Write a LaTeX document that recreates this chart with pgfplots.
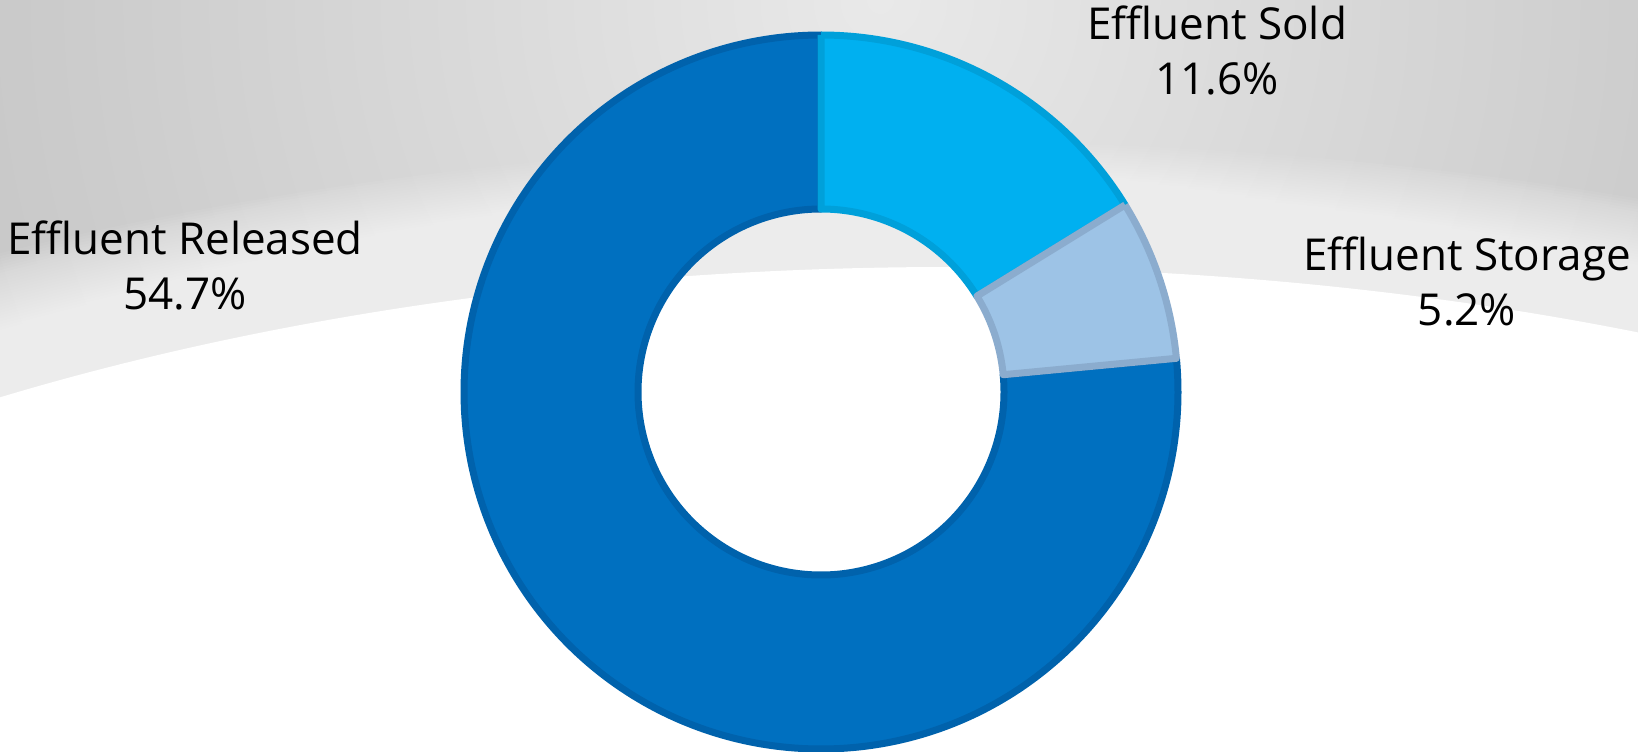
\documentclass[border=0pt]{standalone}
\usepackage{pgfplots}
\pgfplotsset{compat=1.18}
\usepackage{pgfplotstable}
\usepackage{fontspec}
\setmainfont{Open Sans}
\definecolor{relF}{HTML}{0070C0}
\definecolor{relB}{HTML}{0062AC}
\definecolor{soldF}{HTML}{00B0F0}
\definecolor{soldB}{HTML}{00A0DA}
\definecolor{stoF}{HTML}{9DC3E6}
\definecolor{stoB}{HTML}{8BACCE}
\definecolor{g0}{HTML}{E9E9E9}
\definecolor{g1}{HTML}{DADADA}
\definecolor{g2}{HTML}{CCCCCC}
\definecolor{g3}{HTML}{C6C6C6}
\definecolor{g4}{HTML}{C3C3C3}
\pgfdeclareradialshading{baseshade}{\pgfpoint{0bp}{0bp}}{%
 color(0bp)=(g0); color(10bp)=(g1); color(20bp)=(g2); color(25bp)=(g3); color(50bp)=(g4)}
\pgfplotstableread{
label value
Sold 11.6
Storage 5.2
Released 54.7
}\donutdata
\begin{document}
\begin{tikzpicture}
\pgfplotstablegetelem{0}{value}\of\donutdata \edef\vA{\pgfplotsretval}
\pgfplotstablegetelem{1}{value}\of\donutdata \edef\vB{\pgfplotsretval}
\pgfplotstablegetelem{2}{value}\of\donutdata \edef\vC{\pgfplotsretval}
\pgfmathsetmacro\tot{\vA+\vB+\vC}
\pgfmathsetmacro\aO{90}
\pgfmathsetmacro\aA{90-360*(\vA/\tot)}
\pgfmathsetmacro\aB{\aA-360*(\vB/\tot)}
\pgfmathsetmacro\aC{\aB-360*(\vC/\tot)}
% background
\fill[g4] (0,0) rectangle (819pt,375.5pt);
\begin{scope}
\clip (0,0) rectangle (819pt,375.5pt);
\shade[shading=baseshade] (440pt,375.5pt) circle (500pt);
\foreach \s in {1.003,1.006,...,1.151}{
  \fill[white, opacity=0.05] (475pt,-174.5pt) ellipse [x radius=884*\s*1pt, y radius=416.5*\s*1pt];
}
\fill[white] (475pt,-174.5pt) ellipse [x radius=884pt, y radius=416.5pt];
\end{scope}
\useasboundingbox (0,0) rectangle (819pt,375.5pt);
\begin{axis}[
  at={(0,0)}, anchor=south west,
  scale only axis, width=819pt, height=375.5pt,
  xmin=0, xmax=1638, ymin=0, ymax=751,
  axis lines=none, clip=false,
  declare function={
    Rout=357; Rin=183; cx=821; cy=359;
    rr(\t)=(\t<=1)*Rout + (\t>1)*(\t<=2)*(Rout-(Rout-Rin)*(\t-1)) + (\t>2)*(\t<=3)*Rin + (\t>3)*(Rin+(Rout-Rin)*(\t-3));
    ang(\t,\a,\b)=(\t<=1)*(\a+(\b-\a)*\t) + (\t>1)*(\t<=2)*\b + (\t>2)*(\t<=3)*(\b+(\a-\b)*(\t-2)) + (\t>3)*\a;
  },
]
\addplot[fill=relF, draw=relB, line width=3.5pt, line join=round, domain=0:4, samples=1601, variable=\t]
  ({cx+rr(\t)*cos(ang(\t,\aB,\aC))},{cy+rr(\t)*sin(ang(\t,\aB,\aC))});
\addplot[fill=soldF, draw=soldB, line width=3.5pt, line join=round, domain=0:4, samples=1601, variable=\t]
  ({cx+rr(\t)*cos(ang(\t,\aO,\aA))},{cy+rr(\t)*sin(ang(\t,\aO,\aA))});
\addplot[fill=stoF, draw=stoB, line width=3.5pt, line join=round, domain=0:4, samples=1601, variable=\t]
  ({cx+rr(\t)*cos(ang(\t,\aA,\aB))},{cy+rr(\t)*sin(ang(\t,\aA,\aB))});
\node[align=center, font=\fontsize{22}{27.5}\selectfont, text=black] at (axis cs:1217,700.5) {Effluent Sold\\11.6\%};
\node[align=center, font=\fontsize{22}{27.5}\selectfont, text=black] at (axis cs:1467,469.5) {Effluent Storage\\5.2\%};
\node[align=center, font=\fontsize{22}{27.5}\selectfont, text=black] at (axis cs:185,486) {Effluent Released\\54.7\%};
\end{axis}
\end{tikzpicture}
\end{document}
